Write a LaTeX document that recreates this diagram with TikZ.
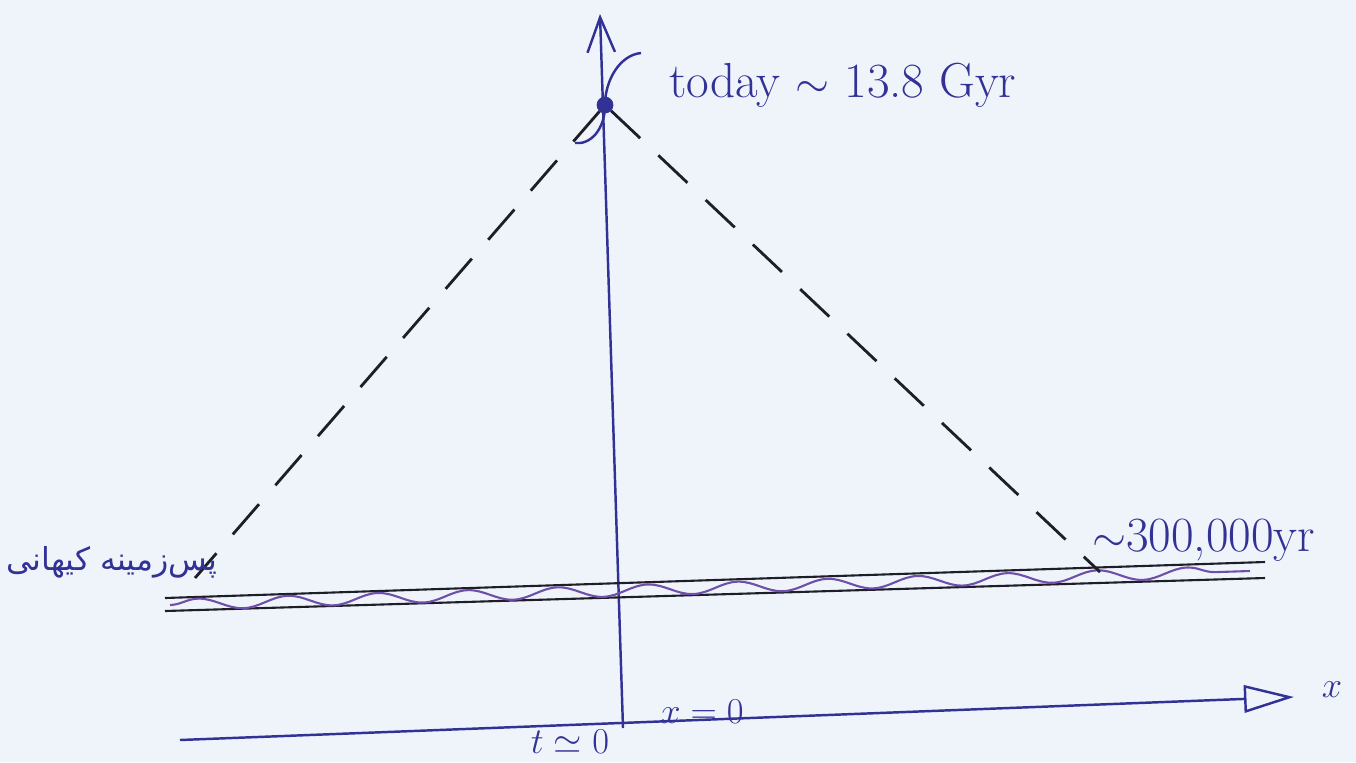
\documentclass[tikz,border=0pt]{standalone}
\usepackage{fontspec}
\usetikzlibrary{arrows.meta,decorations.pathmorphing}
\newfontfamily\arabicfont[Script=Arabic]{DejaVu Sans}
\TeXXeTstate=1
\definecolor{bg}{RGB}{239,244,251}
\definecolor{ink}{RGB}{50,50,150}
\definecolor{wavec}{RGB}{110,80,170}
\definecolor{darkink}{RGB}{30,30,40}
\tikzset{
  axis/.style={ink, line width=1.4pt},
  dashline/.style={darkink, line width=1.6pt, dash pattern=on 0.8cm off 0.5cm},
  band/.style={darkink, line width=1.2pt},
  wavy/.style={wavec, line width=1.2pt, decorate, decoration={snake, segment length=1.8cm, amplitude=0.11cm}},
  lab/.style={ink, font=\fontsize{28}{32}\selectfont},
  smalllab/.style={ink, font=\fontsize{20}{24}\selectfont},
  dotnode/.style={circle, fill=ink, draw=ink, inner sep=0pt, minimum size=0.32cm}
}
\begin{document}
\begin{tikzpicture}[x=0.02cm,y=-0.02cm]
\fill[bg] (0,0) rectangle (1356,762);
\useasboundingbox (0,0) rectangle (1356,762);
% axes
\coordinate (tbot) at (623,728);
\coordinate (ttop) at (600,14);
\coordinate (xl) at (180,740);
\coordinate (xr) at (1294,697);
\draw[axis, -{Straight Barb[length=7mm,width=5.5mm]}] (tbot) -- (ttop);
\draw[axis, -{Triangle[open,length=1cm,width=0.55cm]}] (xl) -- (xr);
\node[smalllab] (xlab) at (1332,690) {$x$};
\node[smalllab] (t0) at (570,742) {$t\simeq 0$};
\node[smalllab] (x0) at (702,712) {$x=0$};
% today
\node[dotnode] (today) at (605,105) {};
\draw[axis] (641,53) .. controls (620,55) and (605,80) .. (today.center) .. controls (605,130) and (590,145) .. (575,143);
\node[lab, anchor=west] (todaylab) at (663,85) {today $\sim$ 13.8 Gyr};
% CMB band
\coordinate (ul) at (165,598); \coordinate (ur) at (1265,562);
\coordinate (ll) at (165,611); \coordinate (lr) at (1265,578);
\coordinate (wl) at (170,605); \coordinate (wr) at (1250,571);
\draw[band] (ul) -- (ur);
\draw[band] (ll) -- (lr);
\draw[wavy] (wl) -- (wr);
% light cone
\coordinate (cl) at (195,578);
\coordinate (cr) at (1100,572);
\draw[dashline] (today) -- (cl);
\draw[dashline] (today) -- (cr);
\node[lab, anchor=west] (lsslab) at (1086,540) {$\sim$300,000yr};
\node[ink, font=\arabicfont\fontsize{18}{22}\selectfont] (cmblab) at (112,562) {\beginR پس‌زمینه کیهانی\endR};
\end{tikzpicture}
\end{document}
